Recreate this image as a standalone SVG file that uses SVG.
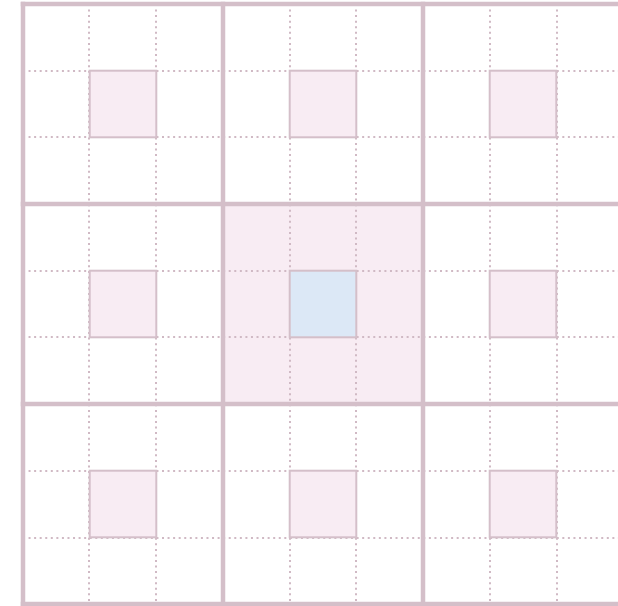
<svg xmlns="http://www.w3.org/2000/svg" width="618" height="606" viewBox="0 0 618 606">
<style>
.thick{stroke:#d4bfc9;stroke-width:4.5;fill:none}
.dot{stroke:#d0b9c4;stroke-width:2;stroke-dasharray:2 3.56;fill:none}
.sq{fill:#f8ecf3;stroke:#d4bfc9;stroke-width:2}
.c{fill:#dce8f6;stroke:#d4bfc9;stroke-width:2}
</style>
<rect x="0" y="0" width="618" height="606" fill="#ffffff"/>
<rect id="center-cell" x="223" y="204" width="200" height="200" fill="#f8ecf3"/>
<g id="dotted">
<path class="dot" d="M89 4V604M156 4V604M290 4V604M356 4V604M490 4V604M557 4V604"/>
<path class="dot" d="M23 71H618M23 137H618M23 271H618M23 337H618M23 471H618M23 538H618"/>
</g>
<g id="n00"><rect class="sq" x="89.7" y="70.7" width="66.6" height="66.6"/></g>
<g id="n01"><rect class="sq" x="289.7" y="70.7" width="66.6" height="66.6"/></g>
<g id="n02"><rect class="sq" x="489.7" y="70.7" width="66.6" height="66.6"/></g>
<g id="n10"><rect class="sq" x="89.7" y="270.7" width="66.6" height="66.6"/></g>
<g id="n11"><rect class="c" x="289.7" y="270.7" width="66.6" height="66.6"/></g>
<g id="n12"><rect class="sq" x="489.7" y="270.7" width="66.6" height="66.6"/></g>
<g id="n20"><rect class="sq" x="89.7" y="470.7" width="66.6" height="66.6"/></g>
<g id="n21"><rect class="sq" x="289.7" y="470.7" width="66.6" height="66.6"/></g>
<g id="n22"><rect class="sq" x="489.7" y="470.7" width="66.6" height="66.6"/></g>
<g id="grid">
<path class="thick" d="M23 1.75V606.25M223 1.75V606.25M423 1.75V606.25M623 1.75V606.25"/>
<path class="thick" d="M20.75 4H625M20.75 204H625M20.75 404H625M20.75 604H625"/>
</g>
</svg>
